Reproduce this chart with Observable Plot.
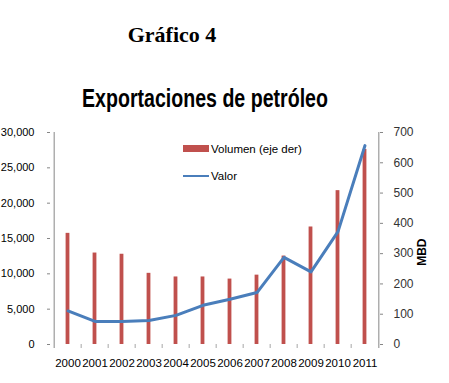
<!DOCTYPE html>
<html><head><meta charset="utf-8">
<script src="https://cdn.jsdelivr.net/npm/d3@7"></script>
<script src="https://cdn.jsdelivr.net/npm/@observablehq/plot@0.6"></script>
<style>
body{margin:0;background:#fff;width:449px;height:383px;overflow:hidden;position:relative;font-family:"Liberation Sans",Arial,sans-serif}
#head{position:relative;height:120px}
#g4{position:absolute;left:0;width:344px;top:23.6px;text-align:center;font:bold 22px/22px "Liberation Serif","Times New Roman",serif;color:#000}
#t{position:absolute;left:0;width:410px;top:85px;text-align:center;font:bold 26px/26px "Liberation Sans",Arial,sans-serif;color:#000;transform:scaleX(0.753);transform-origin:205px 0}
.lg{position:absolute;font:11.5px/12px "Liberation Sans",Arial,sans-serif;color:#000;white-space:nowrap}
.sw{position:absolute}
</style></head><body>
<div id="head">
 <div id="g4">Gráfico 4</div>
 <div id="t">Exportaciones de petróleo</div>
</div>
<div id="chart"></div>
<div class="sw" style="left:183px;top:145px;width:26px;height:7px;background:#C0504D"></div>
<div class="lg" style="left:211px;top:143px">Volumen (eje der)</div>
<div class="sw" style="left:183px;top:175px;width:26px;height:2px;background:#4A7EBB"></div>
<div class="lg" style="left:211px;top:170px">Valor</div>
<script>
const years = ["2000","2001","2002","2003","2004","2005","2006","2007","2008","2009","2010","2011"];
const volumen = [367, 302, 298, 235, 223, 223, 216, 229, 292, 388, 508, 644];
const valor = [4750, 3270, 3270, 3410, 4120, 5550, 6400, 7350, 12330, 10280, 15970, 28150];
const leftTicks = [0, 5000, 10000, 15000, 20000, 25000, 30000];
const rightTicks = [0, 100, 200, 300, 400, 500, 600, 700];
const axisLabel = ["MBD"];

const leftMax = 30000, rightMax = 700;
const k = leftMax / rightMax;
const data = years.map((year, i) => ({year, volumen: volumen[i], valor: valor[i]}));
const W = 449, H = 263, mL = 50, mR = 67;
const bw = (W - mL - mR) / years.length;

const chart = Plot.plot({
  width: W, height: H,
  marginTop: 12, marginBottom: 39, marginLeft: mL, marginRight: mR,
  style: {background: "transparent", fontFamily: "'Liberation Sans', Arial, sans-serif", overflow: "visible"},
  x: {type: "band", domain: years, padding: 0, axis: null, label: null},
  y: {domain: [0, leftMax], axis: null, label: null},
  marks: [
    Plot.barY(data, {x: "year", y: d => d.volumen * k, fill: "#C0504D", insetLeft: 11.6, insetRight: 11.6}),
    Plot.lineY(data, {x: "year", y: "valor", stroke: "#4A7EBB", strokeWidth: 3, strokeLinejoin: "round", curve: "linear"}),
    Plot.ruleX([years[0]], {dx: -bw / 2, stroke: "#868686", insetBottom: -4}),
    Plot.ruleX([years[years.length - 1]], {dx: bw / 2, stroke: "#868686", insetBottom: -4}),
    Plot.axisY({anchor: "left", label: null, ticks: leftTicks, tickFormat: d3.format(","), tickSize: 3, tickPadding: 13, fontSize: 11, stroke: "#868686", fill: "#000"}),
    Plot.axisY({anchor: "right", label: null, ticks: rightTicks.map(v => v * k), tickFormat: d => String(Math.round(d / k)), tickSize: 3, insetRight: 3, tickPadding: 11, fontSize: 12, stroke: "#868686", fill: "#333"}),
    Plot.axisX(years.slice(1), {label: null, tickSize: 4, text: null, dx: -bw / 2, stroke: "#a6a6a6"}),
    Plot.axisX({label: null, tickSize: 0, tickPadding: 14, fontSize: 11.5, fill: "#000"}),
    Plot.text(axisLabel, {text: d => d, frameAnchor: "right", dx: 40, rotate: -90, fontWeight: "bold", fontSize: 12, fill: "#000"})
  ]
});
document.getElementById("chart").appendChild(chart);
</script>
</body></html>
